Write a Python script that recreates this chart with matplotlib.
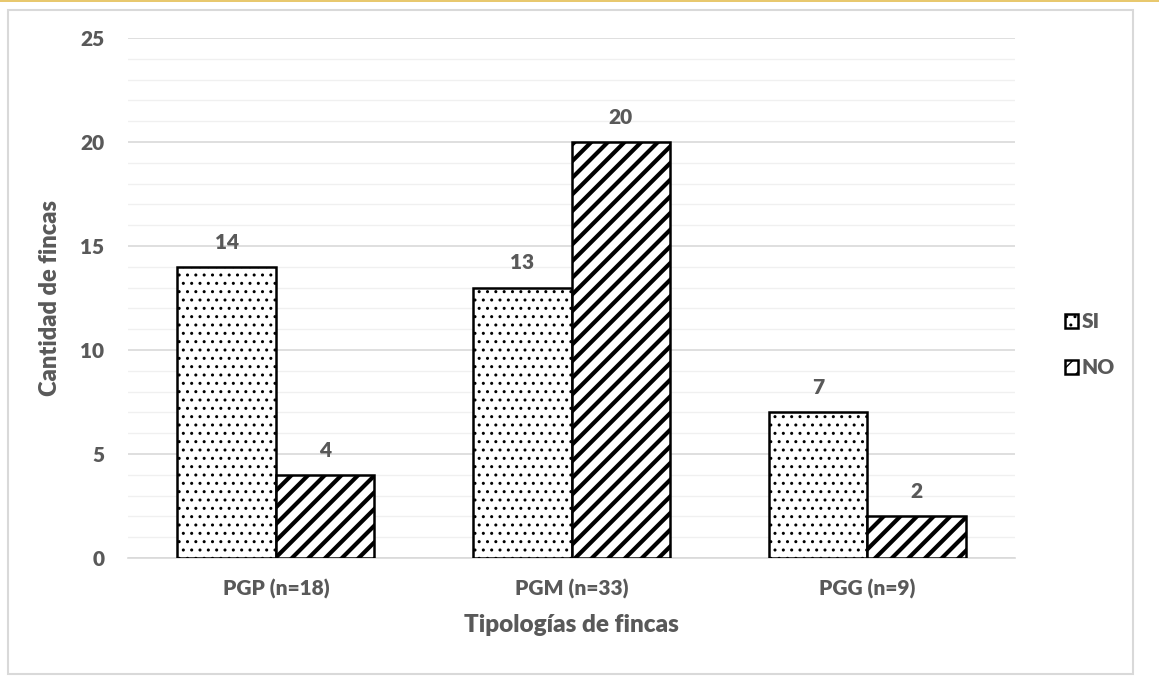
import matplotlib
matplotlib.use("Agg")
from matplotlib import pyplot as plt
from matplotlib.patches import Rectangle
import numpy as np

categories = ["PGP (n=18)", "PGM (n=33)", "PGG (n=9)"]
si = [14, 13, 7]
no = [4, 20, 2]

gray = "#595959"
plt.rcParams['font.family'] = ['Lato', 'DejaVu Sans']
plt.rcParams['font.weight'] = 'heavy'

fig = plt.figure(figsize=(11.59, 6.78), dpi=100)
W, H = 1159, 678

# outer frame + yellow line at the top
fig.patches.append(Rectangle((8 / W, 1 - 674 / H), (1133 - 8) / W, (674 - 10) / H, transform=fig.transFigure,
                             fill=False, edgecolor="#d9d9d9", linewidth=1.5))
fig.patches.append(Rectangle((0, 1 - 2 / H), 1, 2 / H, transform=fig.transFigure,
                             color="#e8c86e", linewidth=0))

ax = fig.add_axes([128 / W, 1 - 558 / H, (1015 - 128) / W, (558 - 38) / H])

x = np.arange(len(categories))
width = 0.333

b1 = ax.bar(x - width / 2, si, width, facecolor="white", edgecolor="black", linewidth=1.8,
            hatch="..", label="SI", zorder=3)
b2 = ax.bar(x + width / 2, no, width, facecolor="white", edgecolor="black", linewidth=1.8,
            hatch="//", label="NO", zorder=3)
for p in b1:
    if hasattr(p, "set_hatch_linewidth"):
        p.set_hatch_linewidth(1.0)
for p in b2:
    if hasattr(p, "set_hatch_linewidth"):
        p.set_hatch_linewidth(3.0)

for rects, vals in ((b1, si), (b2, no)):
    for r, v in zip(rects, vals):
        ax.annotate(str(v), (r.get_x() + r.get_width() / 2, v), xytext=(0, 11),
                    textcoords="offset points", ha="center", va="bottom",
                    fontsize=15, fontweight="heavy", color=gray)

ax.set_xlim(-0.5, 2.5)
ax.set_ylim(0, 25)
ax.set_yticks(range(0, 26, 5))
ax.set_yticks(range(0, 26), minor=True)
ax.grid(axis="y", which="major", color="#d9d9d9", linewidth=1.2, zorder=0)
ax.grid(axis="y", which="minor", color="#f0f0f0", linewidth=1.0, zorder=0)
ax.set_axisbelow(True)
ax.set_xticks(x)
ax.set_xticklabels(categories)
for s in ["top", "right", "left"]:
    ax.spines[s].set_visible(False)
ax.spines["bottom"].set_color("#d9d9d9")
ax.spines["bottom"].set_linewidth(1.2)
ax.tick_params(axis="both", which="both", length=0, colors=gray, labelsize=15)
ax.tick_params(axis="y", pad=17)
ax.tick_params(axis="x", pad=15)
for lab in ax.get_xticklabels() + ax.get_yticklabels():
    lab.set_fontweight("heavy")

ax.set_xlabel("Tipologías de fincas", fontsize=17.5, fontweight="heavy", color=gray, labelpad=11)
ax.set_ylabel("Cantidad de fincas", fontsize=17, fontweight="heavy", color=gray, labelpad=14)

leg = ax.legend(loc="center left", bbox_to_anchor=(1.045, 0.41), frameon=False, borderpad=0,
                handlelength=0.6, handleheight=0.6, handletextpad=0.2, labelspacing=1.3,
                prop={"size": 15, "weight": "heavy"})
for t in leg.get_texts():
    t.set_color(gray)

fig.savefig("out.png", dpi=100)
